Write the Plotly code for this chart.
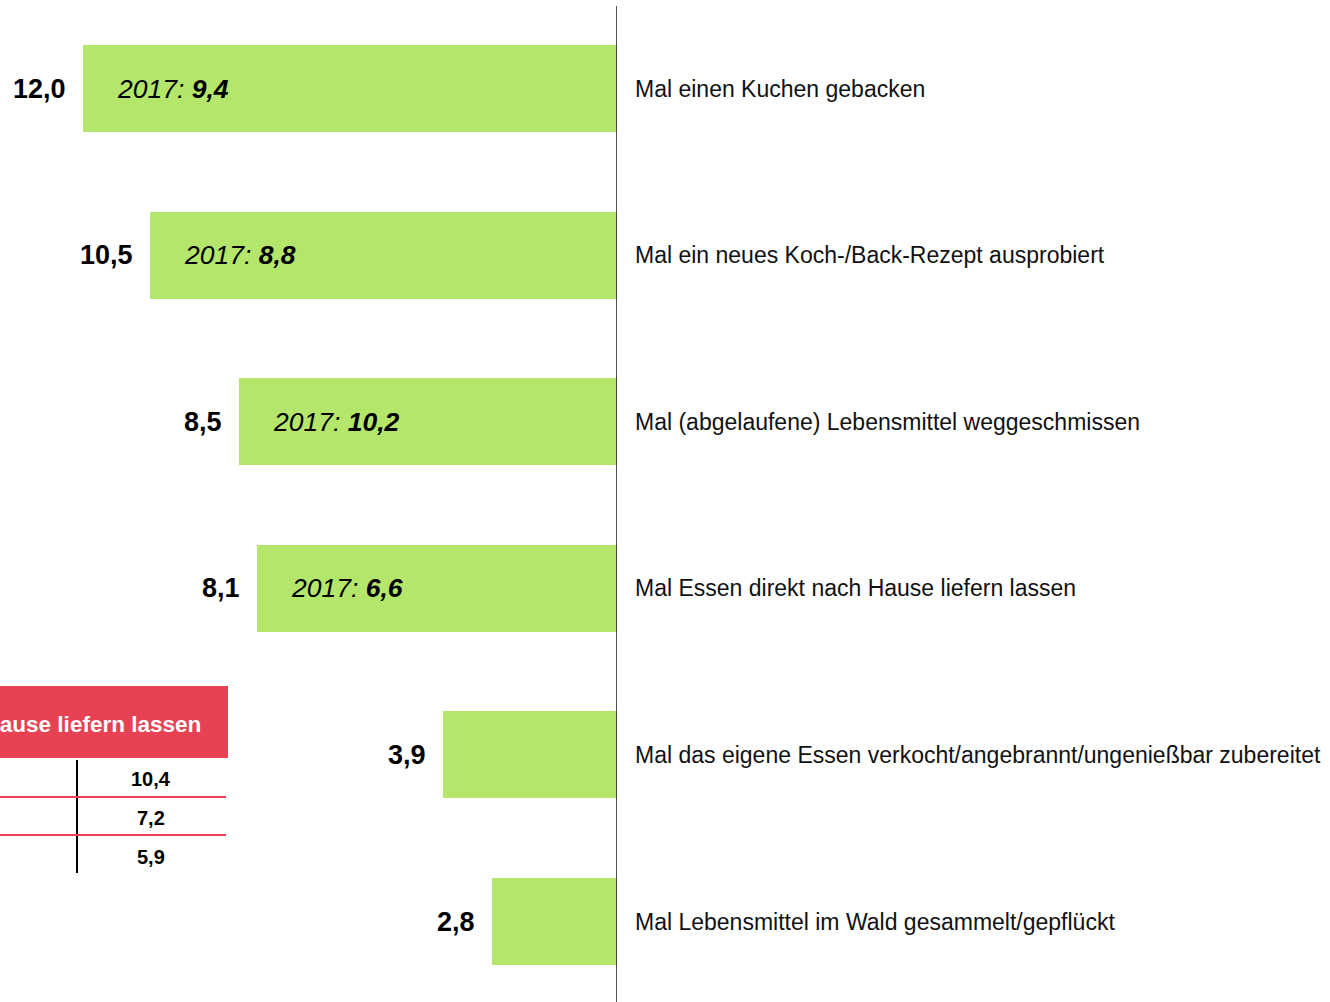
import plotly.graph_objects as go

# ---- data ----
categories = [
    "Mal einen Kuchen gebacken",
    "Mal ein neues Koch-/Back-Rezept ausprobiert",
    "Mal (abgelaufene) Lebensmittel weggeschmissen",
    "Mal Essen direkt nach Hause liefern lassen",
    "Mal das eigene Essen verkocht/angebrannt/ungenießbar zubereitet",
    "Mal Lebensmittel im Wald gesammelt/gepflückt",
]
values_2018 = [12.0, 10.5, 8.5, 8.1, 3.9, 2.8]
values_2017 = [9.4, 8.8, 10.2, 6.6, None, None]

table_title = "Mal Essen direkt nach Hause liefern lassen"
table_values = [10.4, 7.2, 5.9]

GREEN = "#b3e66b"
RED = "#e64253"
FONT = "Liberation Sans, Arial, sans-serif"
W, H = 1330, 1002

def de(v):
    return f"{v:.1f}".replace(".", ",")

def px(x):
    return x / W

def py(y):
    return 1 - y / H

ypos = list(range(len(categories)))

fig = go.Figure()
fig.add_trace(go.Bar(
    x=values_2018, y=ypos, orientation="h", width=0.522,
    marker=dict(color=GREEN, line=dict(width=0)),
    hoverinfo="skip", showlegend=False,
))

ann = []
for i, (cat, v, p) in enumerate(zip(categories, values_2018, values_2017)):
    ann.append(dict(x=v, y=i, xref="x", yref="y", text=f"<b>{de(v)}</b>",
                    xanchor="right", yanchor="middle", xshift=-15, yshift=0,
                    showarrow=False, font=dict(family=FONT, size=27, color="#000")))
    ann.append(dict(x=0, y=i, xref="x", yref="y", text=cat,
                    xanchor="left", yanchor="middle", xshift=16,
                    showarrow=False, font=dict(family=FONT, size=23, color="#111")))
    if p is not None:
        ann.append(dict(x=v, y=i, xref="x", yref="y",
                        text=f"<i>2017: <b>{de(p)}</b></i>",
                        xanchor="left", yanchor="middle", xshift=32, yshift=0,
                        showarrow=False, font=dict(family=FONT, size=26.5, color="#000")))

# inset table fragment
shapes = [
    dict(type="line", xref="x", yref="paper", x0=0, x1=0, y0=py(6), y1=0,
         line=dict(color="#1a1a1a", width=1.5)),
    dict(type="rect", xref="paper", yref="paper", x0=px(0), x1=px(228),
         y0=py(758), y1=py(686), fillcolor=RED, line=dict(width=0), layer="above"),
    dict(type="line", xref="paper", yref="paper", x0=px(77), x1=px(77),
         y0=py(760), y1=py(873), line=dict(color="#000", width=2)),
]
for yy in (797, 835):
    shapes.append(dict(type="line", xref="paper", yref="paper", x0=px(0), x1=px(226),
                       y0=py(yy), y1=py(yy), line=dict(color=RED, width=2)))

ann.append(dict(x=px(203), y=py(724), xref="paper", yref="paper", text=f"<b>{table_title}</b>",
                xanchor="right", yanchor="middle", showarrow=False,
                font=dict(family=FONT, size=22.5, color="#fff")))
for k, tv in enumerate(table_values):
    ann.append(dict(x=px(151), y=py(779 + 39 * k), xref="paper", yref="paper",
                    text=f"<b>{de(tv)}</b>", xanchor="center", yanchor="middle",
                    showarrow=False, font=dict(family=FONT, size=20, color="#000")))

ppu = 44.5
fig.update_layout(
    width=W, height=H,
    margin=dict(l=0, r=0, t=0, b=0),
    paper_bgcolor="white", plot_bgcolor="white",
    xaxis=dict(domain=[0, 617 / W], range=[617 / ppu, 0], visible=False, fixedrange=True),
    yaxis=dict(range=[(H - 88.5) / 166.6, -88.5 / 166.6], visible=False, fixedrange=True),
    shapes=shapes, annotations=ann,
    bargap=0,
)
fig.write_html("out.html", config={"displayModeBar": False},
               post_script="document.body.style.margin='0';document.body.style.overflow='hidden';")
